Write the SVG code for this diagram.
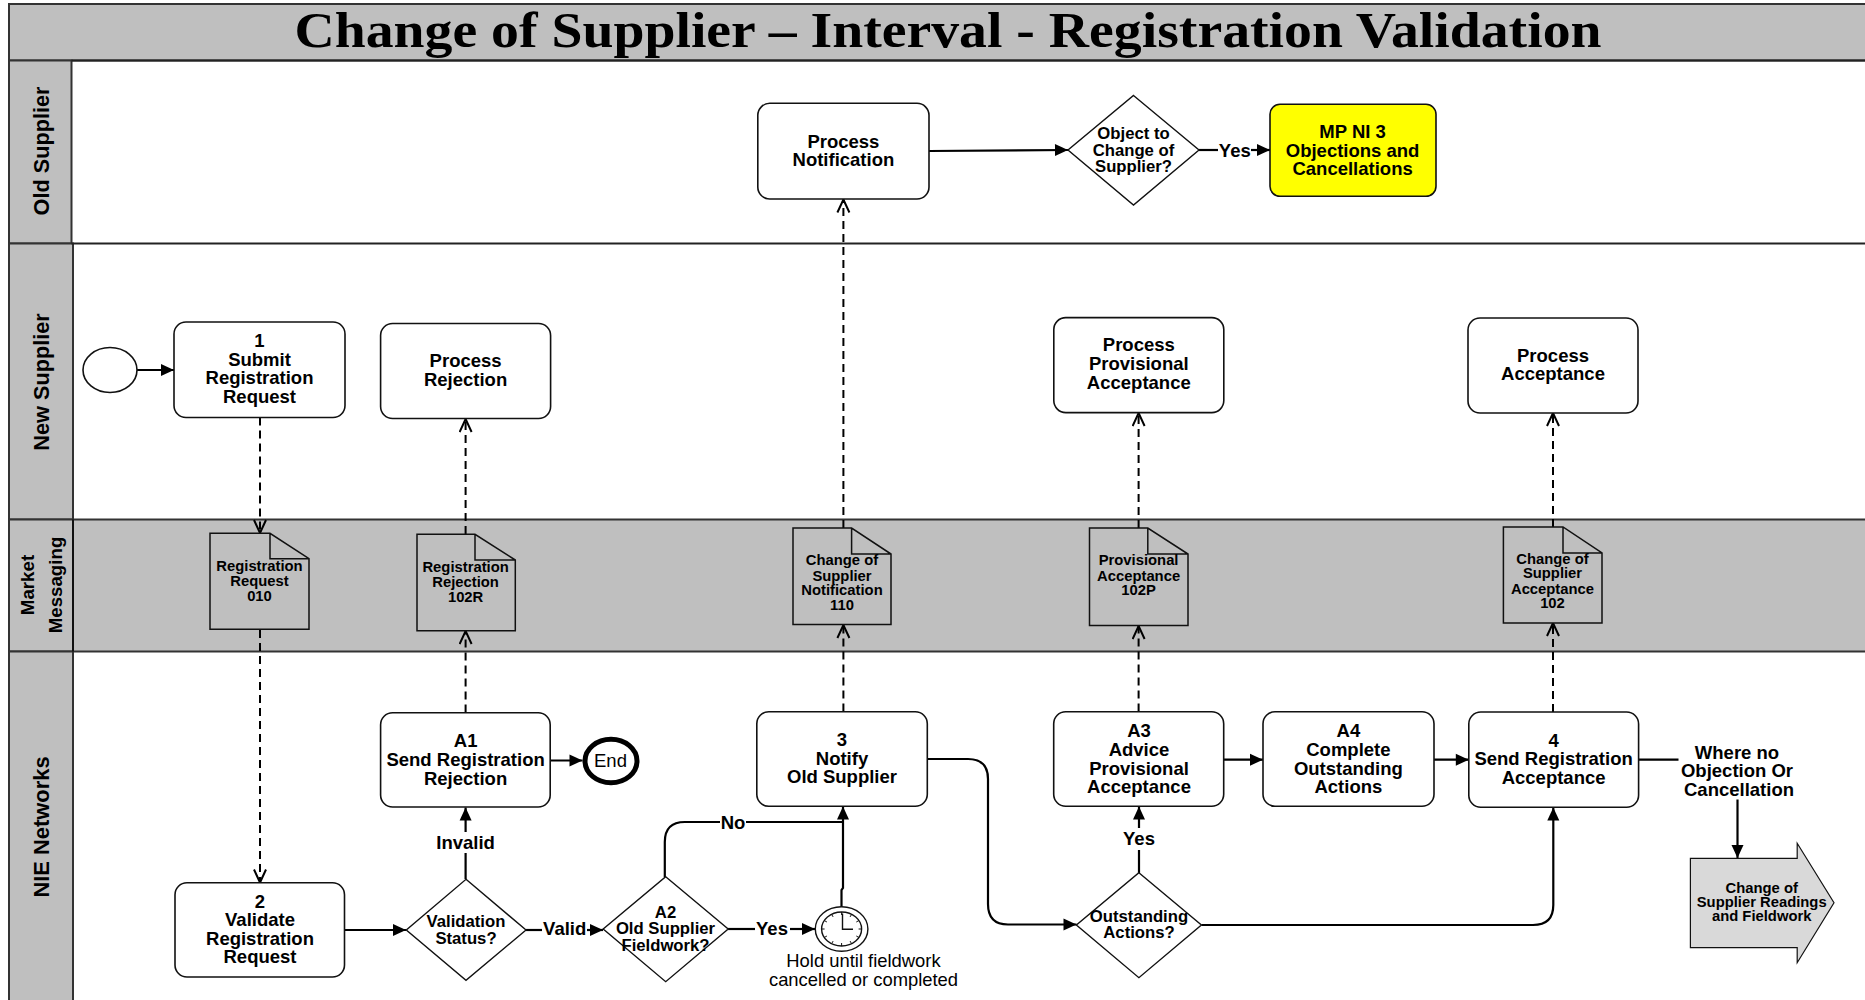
<svg xmlns="http://www.w3.org/2000/svg" width="1865" height="1000" viewBox="0 0 1865 1000">
<style>
text{font-family:"Liberation Sans",Arial,sans-serif;font-weight:700;fill:#000;text-anchor:middle;dominant-baseline:central}
.t18{font-size:18.5px}.t16{font-size:16.7px}.t14{font-size:14.8px}
.r{font-weight:400}
.box{fill:#fff;stroke:#111;stroke-width:1.6}
.doc{fill:#bfbfbf;stroke:#111;stroke-width:1.5}
.dia{fill:#fff;stroke:#111;stroke-width:1.4}
.lane{fill:#bfbfbf;stroke:#333;stroke-width:2}
.ln{fill:none;stroke:#000;stroke-width:2.2}
.sol{marker-end:url(#solid)}
.dash{fill:none;stroke:#000;stroke-width:2;stroke-dasharray:8 5;marker-end:url(#open)}
</style>
<defs>
<marker id="solid" markerUnits="userSpaceOnUse" markerWidth="16" markerHeight="14" refX="14" refY="6.5" orient="auto"><path d="M1 0.5L14 6.5L1 12.5Z" fill="#000"/></marker>
<marker id="open" markerUnits="userSpaceOnUse" markerWidth="16" markerHeight="16" refX="14" refY="7" orient="auto"><path d="M1 1L14 7L1 13" fill="none" stroke="#000" stroke-width="2"/></marker>
</defs>
<rect width="1865" height="1000" fill="#fff"/>
<g id="lanes">
<rect class="lane" x="9" y="4" width="1858" height="56.5"/>
<rect class="lane" x="9" y="60.5" width="62.5" height="183"/>
<rect class="lane" x="9" y="243.5" width="64" height="276"/>
<rect class="lane" x="9" y="519.5" width="1858" height="132"/>
<rect class="lane" x="9" y="651.5" width="64" height="352"/>
<path d="M71.5 243.5H1867M71.5 60.5H1867" stroke="#222" stroke-width="2" fill="none"/>
<path d="M73 519.5V651.5" stroke="#111" stroke-width="2"/>
<text x="948" y="30" textLength="1307" lengthAdjust="spacingAndGlyphs" style="font-family:'Liberation Serif',serif;font-size:50px">Change of Supplier – Interval - Registration Validation</text>
<text transform="translate(41.5 151) rotate(-90)" style="font-size:21.7px">Old Supplier</text>
<text transform="translate(41.5 382) rotate(-90)" style="font-size:21.7px">New Supplier</text>
<text transform="translate(27.5 585) rotate(-90)" style="font-size:18.7px">Market</text>
<text transform="translate(55.5 585) rotate(-90)" style="font-size:18.7px">Messaging</text>
<text transform="translate(41.5 827) rotate(-90)" style="font-size:21.9px">NIE Networks</text>
</g>
<g id="connectors">
<path class="ln sol" d="M137 370H174"/>
<path class="dash" d="M260 417.5V533"/>
<path class="dash" d="M260 630V882.5"/>
<path class="dash" d="M465.6 534V419"/>
<path class="dash" d="M465.6 712.5V631"/>
<path class="dash" d="M843.4 528V199.5"/>
<path class="dash" d="M843.4 711.5V625"/>
<path class="dash" d="M1138.6 528V413"/>
<path class="dash" d="M1138.6 711.5V626"/>
<path class="dash" d="M1553 527V413"/>
<path class="dash" d="M1553 712V623"/>
<path class="ln sol" d="M929 151L1068 150"/>
<path class="ln" d="M1199 150H1218"/>
<path class="ln sol" d="M1251 150H1270"/>
<path class="ln sol" d="M344.5 930H406"/>
<path class="ln sol" d="M465.6 879V853M465.6 832V807.5"/>
<path class="ln" d="M526 930H542"/>
<path class="ln sol" d="M587 930H603"/>
<path class="ln sol" d="M550 760.5H582.5"/>
<path class="ln" d="M664.8 877V842Q664.8 822 684.8 822H720"/>
<path class="ln" d="M746 822H843"/>
<path class="ln" d="M728 929H755"/>
<path class="ln sol" d="M790 929H815"/>
<path class="ln sol" d="M841.5 907V890L843 888V806.5"/>
<path class="ln sol" d="M927.3 759H968Q988 759 988 779V904Q988 924.5 1008 924.5H1076.5"/>
<path class="ln sol" d="M1139 873V850M1139 828V806.5"/>
<path class="ln sol" d="M1201.4 925H1533Q1553.3 925 1553.3 905V807.5"/>
<path class="ln sol" d="M1223.7 759.7H1263"/>
<path class="ln sol" d="M1434 759.7H1468.8"/>
<path class="ln" d="M1638.6 759.7H1678.5"/>
<path class="ln sol" d="M1737.5 799.5V858"/>
</g>
<g id="start"><ellipse cx="110" cy="370" rx="27" ry="22.5" fill="#fff" stroke="#111" stroke-width="1.6"/></g>
<g id="n1"><rect class="box" x="174" y="322" width="171" height="95.5" rx="12"/><text class="t18" x="259.5" y="340">1</text><text class="t18" x="259.5" y="359">Submit</text><text class="t18" x="259.5" y="377.5">Registration</text><text class="t18" x="259.5" y="396.5">Request</text></g>
<g id="process-rejection"><rect class="box" x="380.6" y="323.5" width="170" height="95" rx="12"/><text class="t18" x="465.6" y="360.5">Process</text><text class="t18" x="465.6" y="379.5">Rejection</text></g>
<g id="process-notification"><rect class="box" x="757.8" y="103.3" width="171.2" height="95.7" rx="12"/><text class="t18" x="843.4" y="141.7">Process</text><text class="t18" x="843.4" y="159.3">Notification</text></g>
<g id="object"><path class="dia" d="M1133.5 95.5L1199 150L1133.5 205L1068 150Z"/><text class="t16" x="1133.5" y="133">Object to</text><text class="t16" x="1133.5" y="150">Change of</text><text class="t16" x="1133.5" y="166">Supplier?</text></g>
<text class="t18" x="1234.8" y="150">Yes</text>
<g id="mpni3"><rect x="1270" y="104.3" width="166" height="92" rx="10" fill="#ffff00" stroke="#111" stroke-width="1.6"/><text class="t18" x="1352.6" y="131.7">MP NI 3</text><text class="t18" x="1352.6" y="150">Objections and</text><text class="t18" x="1352.6" y="168.7">Cancellations</text></g>
<g id="process-provisional"><rect class="box" x="1053.8" y="317.6" width="170" height="95" rx="12"/><text class="t18" x="1138.8" y="344.3">Process</text><text class="t18" x="1138.8" y="363.3">Provisional</text><text class="t18" x="1138.8" y="382.3">Acceptance</text></g>
<g id="process-acceptance"><rect class="box" x="1468" y="318" width="170" height="95" rx="12"/><text class="t18" x="1553" y="355.6">Process</text><text class="t18" x="1553" y="373.5">Acceptance</text></g>
<g id="doc010"><path class="doc" d="M210 533.3H270L309 558.7V629.3H210ZM270 533.3V558.7H309"/><text class="t14" x="259.5" y="565.7">Registration</text><text class="t14" x="259.5" y="580.7">Request</text><text class="t14" x="259.5" y="595.7">010</text></g>
<g id="doc102r"><path class="doc" d="M417 534.3H475L515.3 560V630.7H417ZM475 534.3V560H515.3"/><text class="t14" x="465.6" y="567">Registration</text><text class="t14" x="465.6" y="582">Rejection</text><text class="t14" x="465.6" y="597">102R</text></g>
<g id="doc110"><path class="doc" d="M793 528H851.6L891 554V624.4H793ZM851.6 528V554H891"/><text class="t14" x="842" y="560.4">Change of</text><text class="t14" x="842" y="575.6">Supplier</text><text class="t14" x="842" y="590">Notification</text><text class="t14" x="842" y="604.5">110</text></g>
<g id="doc102p"><path class="doc" d="M1089.5 528H1147.8L1188 554V625.6H1089.5ZM1147.8 528V554H1188"/><text class="t14" x="1138.6" y="560.4">Provisional</text><text class="t14" x="1138.6" y="575.6">Acceptance</text><text class="t14" x="1138.6" y="590">102P</text></g>
<g id="doc102"><path class="doc" d="M1503.4 527H1563L1602 553V623H1503.4ZM1563 527V553H1602"/><text class="t14" x="1552.5" y="559">Change of</text><text class="t14" x="1552.5" y="573.3">Supplier</text><text class="t14" x="1552.5" y="588.7">Acceptance</text><text class="t14" x="1552.5" y="603">102</text></g>
<g id="n2"><rect class="box" x="175" y="882.7" width="169.5" height="94.3" rx="12"/><text class="t18" x="260" y="901.7">2</text><text class="t18" x="260" y="919.7">Validate</text><text class="t18" x="260" y="938.7">Registration</text><text class="t18" x="260" y="956.7">Request</text></g>
<g id="validation"><path class="dia" d="M466 879.3L526 930L466 980.3L406.3 930Z"/><text class="t16" x="466" y="921">Validation</text><text class="t16" x="466" y="938">Status?</text></g>
<text class="t18" x="465.6" y="842.7">Invalid</text>
<text class="t18" x="564.7" y="928.5">Valid</text>
<g id="a1"><rect class="box" x="380.6" y="712.7" width="169.6" height="94.3" rx="12"/><text class="t18" x="465.6" y="740.3">A1</text><text class="t18" x="465.6" y="759.7">Send Registration</text><text class="t18" x="465.6" y="778.7">Rejection</text></g>
<g id="end"><ellipse cx="611" cy="761" rx="26" ry="21.7" fill="#fff" stroke="#000" stroke-width="5"/><text class="r" x="610.5" y="760.3" style="font-size:18.5px">End</text></g>
<g id="a2"><path class="dia" d="M665.7 876.7L728.2 929L665.7 981.7L603.2 929Z"/><text class="t16" x="665.5" y="912">A2</text><text class="t16" x="665.5" y="928.3">Old Supplier</text><text class="t16" x="665.5" y="945.3">Fieldwork?</text></g>
<text class="t18" x="772" y="928.5">Yes</text>
<text class="t18" x="733" y="822">No</text>
<g id="timer"><ellipse cx="841.6" cy="929" rx="26.3" ry="22.3" fill="#fff" stroke="#111" stroke-width="1.4"/><ellipse cx="841.6" cy="929" rx="20" ry="17" fill="#fff" stroke="#111" stroke-width="1.4"/><path d="M842.5 913.5V929.3H853" fill="none" stroke="#111" stroke-width="1.4"/><path d="M841.6 912V915M841.6 943V946M821.6 929H824.6M858.6 929H861.6M851.6 914.3L850.1 916.9M831.6 914.3L833.1 916.9M851.6 943.7L850.1 941.1M831.6 943.7L833.1 941.1M824.3 920.5L826.9 922M858.9 920.5L856.3 922M824.3 937.5L826.9 936M858.9 937.5L856.3 936" fill="none" stroke="#111" stroke-width="1"/><text class="r" x="863.5" y="960.2" style="font-size:18.4px">Hold until fieldwork</text><text class="r" x="863.5" y="979.2" style="font-size:18.4px">cancelled or completed</text></g>
<g id="n3"><rect class="box" x="756.8" y="711.7" width="170.5" height="94.6" rx="12"/><text class="t18" x="842" y="739.3">3</text><text class="t18" x="842" y="758.3">Notify</text><text class="t18" x="842" y="776.3">Old Supplier</text></g>
<g id="a3"><rect class="box" x="1053.7" y="711.7" width="170" height="94.6" rx="12"/><text class="t18" x="1139" y="730.7">A3</text><text class="t18" x="1139" y="749.7">Advice</text><text class="t18" x="1139" y="768">Provisional</text><text class="t18" x="1139" y="786.7">Acceptance</text></g>
<g id="outstanding"><path class="dia" d="M1138.9 872.7L1201.4 925L1138.9 977.7L1076.4 925Z"/><text class="t16" x="1139" y="916.3">Outstanding</text><text class="t16" x="1139" y="932.3">Actions?</text></g>
<text class="t18" x="1139" y="838.7">Yes</text>
<g id="a4"><rect class="box" x="1263" y="711.7" width="171" height="94.6" rx="12"/><text class="t18" x="1348.4" y="730.7">A4</text><text class="t18" x="1348.4" y="749.7">Complete</text><text class="t18" x="1348.4" y="768">Outstanding</text><text class="t18" x="1348.4" y="786.7">Actions</text></g>
<g id="n4"><rect class="box" x="1468.8" y="712" width="169.8" height="95.3" rx="12"/><text class="t18" x="1553.6" y="740.7">4</text><text class="t18" x="1553.6" y="758.3">Send Registration</text><text class="t18" x="1553.6" y="777.7">Acceptance</text></g>
<text class="t18" x="1737" y="752.7">Where no</text><text class="t18" x="1737" y="770.3">Objection Or</text><text class="t18" x="1739" y="789.7">Cancellation</text>
<g id="next"><path d="M1690.4 858.3H1797.2V843.3L1834 902.7L1797.2 962.7V947.7H1690.4Z" fill="#d9d9d9" stroke="#111" stroke-width="1.2"/><text class="t14" x="1761.7" y="887.7">Change of</text><text class="t14" x="1761.7" y="901.7">Supplier Readings</text><text class="t14" x="1761.7" y="916.3">and Fieldwork</text></g>
</svg>
